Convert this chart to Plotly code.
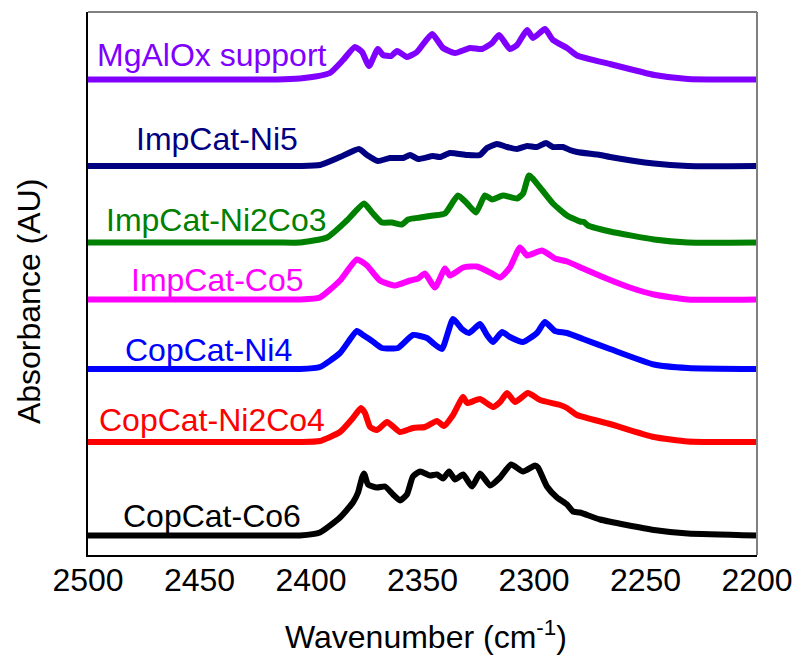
import plotly.graph_objects as go

# Sample names (top to bottom) and their line colours
names = ["MgAlOx support", "ImpCat-Ni5", "ImpCat-Ni2Co3", "ImpCat-Co5",
         "CopCat-Ni4", "CopCat-Ni2Co4", "CopCat-Co6"]
colors = ["#8000FF", "#000080", "#008000", "#FF00FF", "#0000FF", "#FF0000", "#000000"]

# Vertical offsets used to stack the spectra (AU)
offsets = [4.755, 3.89, 3.125, 2.555, 1.86, 1.13, 0.195]

# Wavenumbers (cm-1) and absorbance (AU) for each spectrum
wn_mgalox = [2500, 2450, 2415, 2405, 2398, 2391.5, 2385.6, 2380.3, 2377.1, 2374.0, 2370.0, 2367.7,
             2364.1, 2361.4, 2357.0, 2352.5, 2345.7, 2340.8, 2335.4, 2328.7, 2323.3, 2318.8,
             2315.7, 2310.8, 2307.6, 2303.1, 2300.4, 2295.1, 2291.5, 2285.2, 2280.7, 2266,
             2246, 2231, 2215, 2200]
ab_mgalox = [0, 0, 0, 0.01, 0.03, 0.065, 0.195, 0.325, 0.275, 0.135, 0.305, 0.245,
             0.235, 0.285, 0.225, 0.275, 0.455, 0.315, 0.265, 0.315, 0.305, 0.365,
             0.445, 0.305, 0.345, 0.495, 0.415, 0.505, 0.395, 0.315, 0.24, 0.155,
             0.045, 0.005, 0, 0]

wn_ni5 = [2500, 2450, 2415, 2405, 2396, 2387, 2378.5, 2374.9, 2370, 2364.6, 2358.7, 2355.6,
          2352, 2345.3, 2342.2, 2337.7, 2330, 2324.2, 2321.1, 2316.6, 2312.1, 2307.6, 2303.1,
          2298.7, 2294.6, 2291.5, 2287, 2283.9, 2280.7, 2270.4, 2265.9, 2246.2, 2231, 2200]
ab_ni5 = [0, 0, 0, 0, 0.01, 0.09, 0.17, 0.11, 0.05, 0.08, 0.08, 0.11,
          0.07, 0.10, 0.09, 0.13, 0.11, 0.11, 0.18, 0.22, 0.19, 0.17, 0.20,
          0.19, 0.23, 0.19, 0.19, 0.16, 0.14, 0.11, 0.09, 0.024, 0, 0]

wn_ni2co3 = [2500, 2450, 2415, 2405, 2392.8, 2383.9, 2376.2, 2372.6, 2368.2, 2363.7, 2359.2,
             2356.5, 2351.1, 2345.3, 2339.9, 2334.1, 2330, 2326, 2322, 2318.8, 2313.9, 2307.6,
             2304.9, 2302.2, 2297.3, 2291.5, 2285.2, 2279.4, 2277.6, 2275.8, 2265.9, 2246.2,
             2231, 2200]
ab_ni2co3 = [0, 0, 0, 0, 0.05, 0.22, 0.39, 0.30, 0.20, 0.20, 0.18,
             0.23, 0.25, 0.27, 0.29, 0.47, 0.39, 0.30, 0.47, 0.43, 0.47, 0.44,
             0.49, 0.67, 0.55, 0.39, 0.27, 0.21, 0.205, 0.17, 0.11, 0.03,
             0, 0]

wn_co5 = [2500, 2450, 2415, 2405, 2396, 2387, 2379.4, 2374.9, 2369.1, 2362.3, 2355.6, 2352,
          2348.9, 2344.4, 2339.9, 2337.7, 2331.8, 2325.6, 2319.7, 2315.2, 2310.8, 2306.3,
          2303.1, 2296.4, 2290.6, 2285.2, 2278, 2268.6, 2257, 2246.2, 2231, 2200]
ab_co5 = [0, 0, 0, 0, 0.02, 0.19, 0.40, 0.34, 0.19, 0.14, 0.19, 0.21,
          0.26, 0.12, 0.31, 0.24, 0.32, 0.33, 0.27, 0.22, 0.32, 0.52,
          0.44, 0.49, 0.41, 0.38, 0.31, 0.22, 0.12, 0.05, 0, 0]

wn_ni4 = [2500, 2450, 2415, 2405, 2396, 2387, 2379.4, 2376.7, 2372.6, 2368.2, 2361, 2354.3,
          2348, 2345.3, 2341.3, 2336.3, 2332.3, 2329.1, 2324.2, 2321.1, 2318.4, 2314.3,
          2310.8, 2304.9, 2298.7, 2295.1, 2290.6, 2285.2, 2278, 2265.9, 2246.2, 2231, 2200]
ab_ni4 = [0, 0, 0, 0, 0.02, 0.16, 0.38, 0.34, 0.28, 0.21, 0.21, 0.34,
          0.31, 0.26, 0.20, 0.50, 0.40, 0.36, 0.45, 0.34, 0.27, 0.37,
          0.32, 0.27, 0.36, 0.47, 0.38, 0.36, 0.30, 0.20, 0.045, 0.01, 0]

wn_ni2co4 = [2500, 2450, 2415, 2405, 2396, 2387, 2381.2, 2377.6, 2375.8, 2373.5, 2370.4,
             2365.9, 2360.1, 2354.3, 2348.9, 2343.5, 2340.4, 2336.3, 2331.8, 2330, 2324.2,
             2318.4, 2315.2, 2312.1, 2308.5, 2302.7, 2297.3, 2288.3, 2285.2, 2280.7, 2265.9,
             2246.2, 2231, 2200]
ab_ni2co4 = [0, 0, 0, 0, 0.01, 0.10, 0.24, 0.34, 0.29, 0.15, 0.12,
             0.20, 0.10, 0.14, 0.15, 0.21, 0.16, 0.27, 0.45, 0.39, 0.43,
             0.35, 0.40, 0.49, 0.40, 0.49, 0.42, 0.37, 0.34, 0.27, 0.18,
             0.05, 0.005, 0]

wn_co6 = [2500, 2450, 2415, 2405, 2396, 2387, 2381.2, 2378.9, 2377.1, 2376.2, 2374.4, 2370.4,
          2366.8, 2363.2, 2360.1, 2357, 2354.3, 2351.1, 2346.6, 2343.5, 2340.8, 2338.1,
          2335.4, 2331.8, 2327.8, 2324.2, 2319.7, 2315.2, 2310.3, 2304.9, 2299.6, 2298.2,
          2294.2, 2289.7, 2285.2, 2282.5, 2279.4, 2270.4, 2246.2, 2231, 2200]
ab_co6 = [0, 0, 0, 0, 0.03, 0.18, 0.33, 0.43, 0.58, 0.62, 0.51, 0.48,
          0.49, 0.41, 0.35, 0.41, 0.59, 0.64, 0.60, 0.61, 0.57, 0.64,
          0.56, 0.61, 0.49, 0.62, 0.50, 0.58, 0.71, 0.64, 0.70, 0.68,
          0.49, 0.38, 0.31, 0.24, 0.23, 0.16, 0.055, 0.02, 0]

x_ticks = [2500, 2450, 2400, 2350, 2300, 2250, 2200]

wavenumbers = [wn_mgalox, wn_ni5, wn_ni2co3, wn_co5, wn_ni4, wn_ni2co4, wn_co6]
absorbances = [ab_mgalox, ab_ni5, ab_ni2co3, ab_co5, ab_ni4, ab_ni2co4, ab_co6]

# Label placement: x in cm-1, y relative to each spectrum's baseline (AU)
label_x = [2444.5, 2442, 2442.5, 2442, 2446, 2444.5, 2444.5]
label_dy = [0.245, 0.27, 0.225, 0.2, 0.19, 0.22, 0.2]

FONT = "Liberation Sans, Arial, sans-serif"

fig = go.Figure()
for name, col, off, wn, ab in zip(names, colors, offsets, wavenumbers, absorbances):
    fig.add_trace(go.Scatter(
        x=wn, y=[a + off for a in ab], mode="lines", name=name,
        line=dict(color=col, width=6, shape="spline", smoothing=0.5),
        showlegend=False,
    ))

for name, col, off, lx, dy in zip(names, colors, offsets, label_x, label_dy):
    fig.add_annotation(x=lx, y=off + dy, text=name, showarrow=False,
                       xanchor="center", yanchor="middle",
                       font=dict(family=FONT, size=32, color=col))

# Axis titles
fig.add_annotation(xref="paper", yref="paper", x=0.505, y=-0.148, text="Wavenumber (cm<sup>-1</sup>)",
                   showarrow=False, xanchor="center", yanchor="middle",
                   font=dict(family=FONT, size=32, color="black"))
fig.add_annotation(xref="paper", yref="paper", x=-0.088, y=0.466, text="Absorbance (AU)",
                   showarrow=False, textangle=-90, xanchor="center", yanchor="middle",
                   font=dict(family=FONT, size=32, color="black"))

# Grey top and right frame edges
fig.add_shape(type="line", xref="paper", yref="paper", x0=0, x1=1, y0=1, y1=1,
              line=dict(color="#808080", width=2))
fig.add_shape(type="line", xref="paper", yref="paper", x0=1, x1=1, y0=0, y1=1,
              line=dict(color="#808080", width=2))

fig.update_layout(
    width=795, height=662,
    margin=dict(l=88, r=38, t=12, b=107),
    paper_bgcolor="white", plot_bgcolor="white",
    font=dict(family=FONT, size=32, color="black"),
)
fig.update_xaxes(range=[2500, 2200], tickvals=x_ticks, ticks="", showgrid=False,
                 zeroline=False, showline=True, linecolor="black", linewidth=2,
                 automargin=False, ticklabelstandoff=-4,
                 tickfont=dict(family=FONT, size=32, color="black"))
fig.update_yaxes(range=[0, 5.43], showticklabels=False, ticks="", showgrid=False,
                 zeroline=False, showline=True, linecolor="black", linewidth=2,
                 automargin=False)

fig.write_html("out.html")
